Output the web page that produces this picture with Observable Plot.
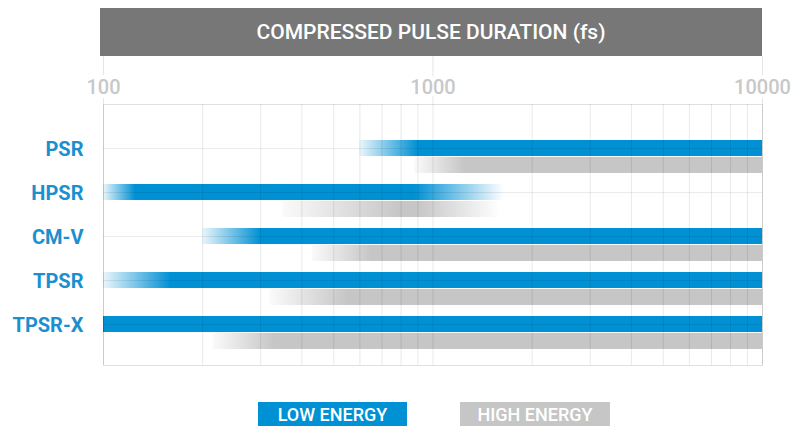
<!DOCTYPE html>
<html><head><meta charset="utf-8">
<script src="https://cdn.jsdelivr.net/npm/d3@7"></script>
<script src="https://cdn.jsdelivr.net/npm/@observablehq/plot@0.6"></script>
<style>
body{margin:0;background:#fff;font-family:Roboto,sans-serif;}
#wrap{position:relative;width:805px;height:426px;overflow:hidden;}
#chart{position:absolute;left:0;top:0;}
#header{position:absolute;left:100px;top:8px;width:662px;height:48px;background:#777;color:#fff;font:500 21px Roboto,sans-serif;display:flex;align-items:center;justify-content:center;}
.lg{position:absolute;top:402px;height:24px;color:#fff;font:500 18px Roboto,sans-serif;display:flex;align-items:center;justify-content:center;}
</style></head><body>
<div id="wrap">
  <div id="chart"></div>
  <div id="header">COMPRESSED PULSE DURATION (fs)</div>
  <div class="lg" style="left:258px;width:149px;background:#0091d5">LOW ENERGY</div>
  <div class="lg" style="left:460px;width:150px;background:#c6c6c6">HIGH ENERGY</div>
</div>
<script>
const models = ["PSR", "HPSR", "CM-V", "TPSR", "TPSR-X"];
// low energy (blue) ranges in fs: fade-in start, fully on, fully on until, fade-out end
const lowStart   = [600, 100, 200, 100, 100];
const lowFull    = [900, 125, 300, 160, 100];
const lowFullEnd = [10000, 880, 10000, 10000, 10000];
const lowEnd     = [10000, 1650, 10000, 10000, 10000];
// high energy (gray) ranges
const highStart   = [880, 350, 430, 320, 215];
const highFull    = [1250, 800, 650, 550, 330];
const highFullEnd = [10000, 900, 10000, 10000, 10000];
const highEnd     = [10000, 1600, 10000, 10000, 10000];
const xTickLabels = [100, 1000, 10000];

const BLUE = "#0091d5", GRAY = "#c6c6c6";

const rows = models.map((m, i) => ({
  model: m,
  lowStart: lowStart[i], lowFull: lowFull[i], lowFullEnd: lowFullEnd[i], lowEnd: lowEnd[i],
  highStart: highStart[i], highFull: highFull[i], highFullEnd: highFullEnd[i], highEnd: highEnd[i]
}));

const barMarks = [];
rows.forEach((r, i) => {
  barMarks.push(Plot.barX([r], {x1: "lowStart", x2: "lowEnd", y: "model", fill: `url(#lo${i})`}));
  barMarks.push(Plot.barX([r], {x1: "highStart", x2: "highEnd", y: "model", dy: 17, fill: `url(#hi${i})`}));
});

const plot = Plot.plot({
  width: 805,
  height: 380,
  marginLeft: 103,
  marginRight: 43,
  marginTop: 104,
  marginBottom: 15,
  style: {fontFamily: "Roboto, sans-serif", background: "transparent"},
  x: {type: "log", domain: [100, 10000], axis: null},
  y: {domain: models, insetTop: 36, insetBottom: 33, paddingInner: 28 / 44, paddingOuter: 0, label: null},
  marks: [
    ...barMarks,
    Plot.gridX({stroke: "#000", strokeOpacity: 0.09}),
    Plot.gridY({stroke: "#000", strokeOpacity: 0.08}),
    Plot.ruleX(xTickLabels, {x: d => d, insetTop: -48, insetBottom: 261, stroke: "#000", strokeOpacity: 0.1}),
    Plot.frame({stroke: "#000", strokeOpacity: 0.12}),
    Plot.text(xTickLabels, {x: d => d, frameAnchor: "top", dy: -25, text: d => String(d),
      fill: "#c8c8c8", stroke: "white", strokeWidth: 8, fontSize: 20, fontWeight: 500}),
    Plot.axisY({tickSize: 0, tickPadding: 20, fontSize: 20, fontWeight: "bold", fill: "#1b8fd0", dy: 1, label: null})
  ]
});

const xs = plot.scale("x");
const defs = d3.select(plot).insert("defs", ":first-child");
function addGrad(id, color, a, b, c, d) {
  const pa = xs.apply(a), pd = xs.apply(d);
  const X = v => (xs.apply(v) - pa) / (pd - pa);
  const g = defs.append("linearGradient").attr("id", id)
    .attr("gradientUnits", "userSpaceOnUse")
    .attr("x1", pa).attr("x2", pd).attr("y1", 0).attr("y2", 0);
  const stops = [
    [0, a === b ? 1 : 0.08],
    [X(b), 1],
    [X(c), 1],
    [1, c === d ? 1 : 0]
  ];
  for (const [o, op] of stops) g.append("stop").attr("offset", o).attr("stop-color", color).attr("stop-opacity", op);
}
rows.forEach((r, i) => {
  addGrad(`lo${i}`, BLUE, r.lowStart, r.lowFull, r.lowFullEnd, r.lowEnd);
  addGrad(`hi${i}`, GRAY, r.highStart, r.highFull, r.highFullEnd, r.highEnd);
});

document.getElementById("chart").appendChild(plot);
</script>
</body></html>
